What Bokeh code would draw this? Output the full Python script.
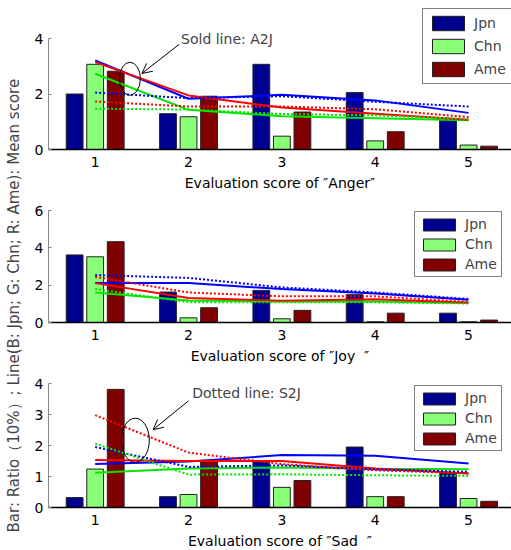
import math
from bokeh.plotting import figure
from bokeh.layouts import row, column
from bokeh.models import Legend, LegendItem, Label, Arrow, OpenHead, Range1d, FixedTicker
from bokeh.embed import file_html
from bokeh.resources import INLINE

# ---------------- data ----------------
scores = [1, 2, 3, 4, 5]
countries = ["Jpn", "Chn", "Ame"]

# Anger
anger_bar_jpn = [2.00, 1.29, 3.07, 2.05, 1.05]
anger_bar_chn = [3.07, 1.18, 0.48, 0.31, 0.16]
anger_bar_ame = [2.82, 1.92, 1.35, 0.64, 0.12]
anger_a2j_jpn = [3.21, 1.83, 1.97, 1.77, 1.32]
anger_a2j_chn = [2.73, 1.43, 1.20, 1.13, 1.05]
anger_a2j_ame = [3.15, 1.95, 1.51, 1.29, 1.07]
anger_s2j_jpn = [2.05, 1.85, 1.92, 1.72, 1.55]
anger_s2j_chn = [1.47, 1.44, 1.28, 1.23, 1.10]
anger_s2j_ame = [1.73, 1.55, 1.55, 1.45, 1.17]

# Joy
joy_bar_jpn = [3.62, 1.63, 1.72, 1.49, 0.50]
joy_bar_chn = [3.52, 0.25, 0.20, 0.04, 0.04]
joy_bar_ame = [4.33, 0.79, 0.65, 0.50, 0.13]
joy_a2j_jpn = [2.12, 2.11, 1.79, 1.56, 1.22]
joy_a2j_chn = [1.61, 1.18, 1.13, 1.12, 1.04]
joy_a2j_ame = [2.11, 1.31, 1.17, 1.24, 1.06]
joy_s2j_jpn = [2.54, 2.39, 1.88, 1.61, 1.26]
joy_s2j_chn = [1.79, 1.09, 1.08, 1.08, 1.02]
joy_s2j_ame = [2.44, 1.61, 1.40, 1.40, 1.10]

# Sad
sad_bar_jpn = [0.32, 0.35, 1.47, 1.95, 1.10]
sad_bar_chn = [1.24, 0.42, 0.65, 0.35, 0.29]
sad_bar_ame = [3.81, 1.52, 0.87, 0.35, 0.20]
sad_a2j_jpn = [1.40, 1.48, 1.69, 1.67, 1.42]
sad_a2j_chn = [1.12, 1.26, 1.29, 1.25, 1.23]
sad_a2j_ame = [1.53, 1.50, 1.50, 1.26, 1.10]
sad_s2j_jpn = [1.95, 1.31, 1.36, 1.23, 1.15]
sad_s2j_chn = [2.06, 1.06, 1.07, 1.04, 1.02]
sad_s2j_ame = [2.98, 1.77, 1.40, 1.20, 1.10]

x_titles = ["Evaluation score of \u2033Anger\u2033",
            "Evaluation score of \u2033Joy\u00a0\u00a0\u2033",
            "Evaluation score of \u2033Sad\u00a0\u00a0\u2033"]
y_title = "Bar: Ratio\uff0810%\uff09; Line(B: Jpn; G: Chn; R: Ame): Mean score"

FONT = "DejaVu Sans"
BAR_COLORS = ["#000090", "#8AFF78", "#800000"]
LINE_COLORS = ["#0000FF", "#00E600", "#FF0000"]
OFFSETS = [-0.22, 0.0, 0.22]


def panel(xtitle, bars, solid, dotted, ytop, yend, yticks, frame_h, top, bottom,
          leg_loc, glyph_h, leg_spacing, leg_pad):
    p = figure(frame_width=463, frame_height=frame_h,
               x_range=Range1d(0.5, 5.46), y_range=Range1d(0, yend),
               output_backend="svg", toolbar_location=None,
               min_border_left=22, min_border_right=0,
               min_border_top=top, min_border_bottom=bottom)
    p.grid.visible = False
    p.outline_line_color = None
    p.background_fill_color = "white"

    rends = []
    for vals, off, col in zip(bars, OFFSETS, BAR_COLORS):
        r = p.vbar(x=[s + off for s in scores], top=vals, width=0.18,
                   fill_color=col, line_color="#222222", line_width=1)
        rends.append(r)
    for vals, col in zip(solid, LINE_COLORS):
        p.line(scores, vals, line_color=col, line_width=2)
    for vals, col in zip(dotted, LINE_COLORS):
        p.line(scores, vals, line_color=col, line_width=2, line_dash="2 2")

    p.xaxis.ticker = FixedTicker(ticks=scores)
    p.yaxis.ticker = FixedTicker(ticks=yticks)
    p.yaxis.bounds = (0, ytop)
    p.xaxis.axis_label = xtitle
    for ax in (p.xaxis[0], p.yaxis[0]):
        ax.major_label_text_font = FONT
        ax.major_label_text_font_size = "14px"
        ax.major_label_text_color = "black"
        ax.minor_tick_line_color = None
        ax.major_tick_out = 0
        ax.axis_label_text_font = FONT
        ax.axis_label_text_font_size = "14px"
        ax.axis_label_text_font_style = "normal"
        ax.axis_label_text_color = "black"
    p.xaxis.major_label_standoff = 7
    p.xaxis.axis_label_standoff = 5
    p.xaxis.major_tick_in = 0
    p.yaxis.major_tick_in = 3
    p.yaxis.major_tick_line_color = "#888888"
    p.yaxis.axis_line_color = "#888888"
    p.xaxis.axis_line_color = "black"
    p.xaxis.axis_line_width = 1.5

    leg = Legend(items=[LegendItem(label=c, renderers=[r]) for c, r in zip(countries, rends)],
                 location=leg_loc)
    leg.label_text_font = FONT
    leg.label_text_font_size = "14px"
    leg.glyph_width = 40
    leg.glyph_height = glyph_h
    leg.spacing = leg_spacing
    leg.padding = leg_pad
    leg.margin = 0
    leg.label_standoff = 6
    leg.border_line_color = "black"
    leg.border_line_width = 1
    leg.background_fill_alpha = 1
    p.add_layout(leg)
    return p


p1 = panel(x_titles[0], [anger_bar_jpn, anger_bar_chn, anger_bar_ame],
           [anger_a2j_jpn, anger_a2j_chn, anger_a2j_ame],
           [anger_s2j_jpn, anger_s2j_chn, anger_s2j_ame],
           4, 141 / 27.75, [0, 2, 4], 141, 8, 50, (374, 65), 18, 5, 5)
p2 = panel(x_titles[1], [joy_bar_jpn, joy_bar_chn, joy_bar_ame],
           [joy_a2j_jpn, joy_a2j_chn, joy_a2j_ame],
           [joy_s2j_jpn, joy_s2j_chn, joy_s2j_ame],
           6, 6, [0, 2, 4, 6], 112, 11, 50, (366, 45), 15, 4, 4)
p3 = panel(x_titles[2], [sad_bar_jpn, sad_bar_chn, sad_bar_ame],
           [sad_a2j_jpn, sad_a2j_chn, sad_a2j_ame],
           [sad_s2j_jpn, sad_s2j_chn, sad_s2j_ame],
           4, 4, [0, 1, 2, 3, 4], 124, 11, 43, (366, 56), 15, 4, 4)

# annotations
p1.add_layout(Label(x=1.92, y=4.0, text="Sold line: A2J", text_font=FONT,
                    text_font_size="14px", text_baseline="middle", text_align="left"))
p1.add_layout(Arrow(end=OpenHead(size=10, line_width=1), x_start=1.90, y_start=3.79,
                    x_end=1.50, y_end=2.74, line_width=1, line_color="black"))
p1.ellipse(x=[1.372], y=[2.55], width=[0.225], height=[1.19],
           fill_color=None, line_color="black", line_width=1)

p3.add_layout(Label(x=2.04, y=3.68, text="Dotted line: S2J", text_font=FONT,
                    text_font_size="14px", text_baseline="middle", text_align="left"))
p3.add_layout(Arrow(end=OpenHead(size=10, line_width=1), x_start=2.0, y_start=3.44,
                    x_end=1.62, y_end=2.51, line_width=1, line_color="black"))
p3.ellipse(x=[1.43], y=[2.17], width=[0.30], height=[1.42],
           fill_color=None, line_color="black", line_width=1)

# y-axis title spanning all panels
lab = figure(width=26, height=550, x_range=Range1d(0, 26), y_range=Range1d(0, 550),
             output_backend="svg", toolbar_location=None, min_border=0)
lab.axis.visible = False
lab.grid.visible = False
lab.outline_line_color = None
lab.add_layout(Label(x=13, y=550 - 532, text=y_title, angle=math.pi / 2,
                     text_align="left", text_baseline="middle",
                     text_font=FONT, text_font_size="15px"))

layout = row(lab, column(p1, p2, p3, spacing=0), spacing=0)
open("out.html", "w").write(file_html(layout, INLINE))
